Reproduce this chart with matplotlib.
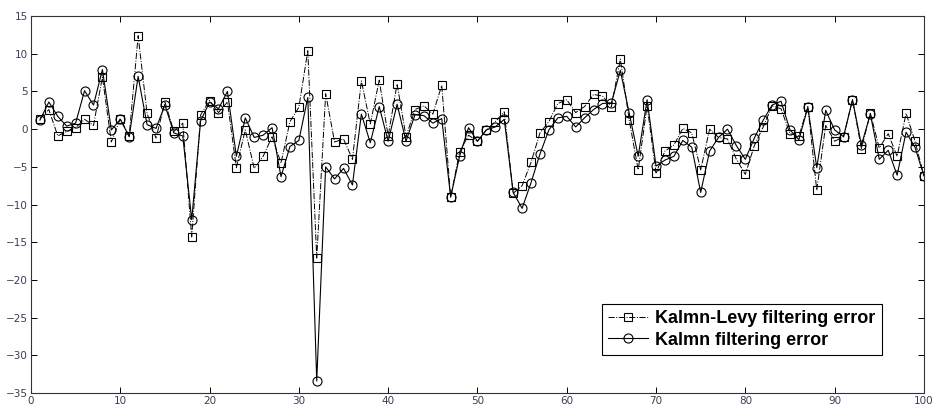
import numpy as np
import matplotlib
matplotlib.use("Agg")
import matplotlib.pyplot as plt

# sample index
steps = np.arange(1, 101)

# Kalmn-Levy filtering error (squares, dash-dot)
levy_err = [1.4, 2.6, -0.9, -0.3, 0.2, 1.3, 0.5, 6.9, -1.7, 1.4,
            -0.9, 12.4, 2.1, -1.2, 3.6, -0.3, 0.8, -14.3, 1.9, 3.8,
            2.2, 3.6, -5.1, -0.1, -5.2, -3.6, -1.0, -4.5, 1.0, 2.9,
            10.4, -17.1, 4.7, -1.7, -1.3, -4.0, 6.4, 0.7, 6.5, -0.9,
            6.0, -1.0, 2.6, 3.1, 2.0, 5.8, -9.0, -3.0, -0.8, -1.6,
            -0.1, 1.0, 2.3, -8.5, -7.5, -4.4, -0.5, 1.0, 3.4, 3.9,
            2.2, 3.0, 4.6, 4.4, 3.0, 9.3, 1.2, -5.4, 3.1, -5.8,
            -2.9, -2.1, 0.1, -0.5, -5.4, 0.0, -1.1, -1.3, -4.0, -6.0,
            -2.2, 0.3, 3.1, 2.7, -0.6, -0.9, 3.0, -8.1, 0.5, -1.6,
            -1.0, 3.9, -2.6, 2.1, -2.5, -0.6, -3.6, 2.1, -1.6, -6.2]

# Kalmn filtering error (circles, solid)
kalman_err = [1.2, 3.6, 1.7, 0.4, 0.8, 5.1, 3.2, 7.9, -0.1, 1.3,
              -1.0, 7.0, 0.6, 0.1, 3.2, -0.5, -0.9, -12.0, 1.1, 3.6,
              2.7, 5.0, -3.6, 1.5, -1.1, -0.8, 0.2, -6.3, -2.3, -1.5,
              4.2, -33.4, -5.0, -6.6, -5.2, -7.4, 2.0, -1.8, 3.0, -1.6,
              3.3, -1.6, 1.9, 1.8, 0.8, 1.4, -9.0, -3.6, 0.2, -1.6,
              -0.1, 0.3, 1.3, -8.4, -10.5, -7.1, -3.3, -0.1, 1.5, 1.7,
              0.3, 1.5, 2.6, 3.4, 3.5, 7.8, 2.1, -3.6, 3.9, -4.9,
              -4.1, -3.6, -1.5, -2.4, -8.4, -2.9, -1.1, 0.0, -2.2, -4.0,
              -1.2, 1.2, 3.2, 3.7, -0.1, -1.4, 2.9, -5.1, 2.5, -0.1,
              -1.0, 3.9, -2.1, 2.0, -4.0, -2.8, -6.1, -0.4, -2.4, -6.2]

fig = plt.figure(figsize=(9.36, 4.12), dpi=100)
ax = fig.add_axes([0.0331, 0.046, 0.954, 0.915])

ax.plot(steps, levy_err, linestyle='-.', color='black', lw=0.7,
        marker='s', markersize=5.5, markerfacecolor='none',
        markeredgecolor='black', markeredgewidth=0.8,
        label='Kalmn-Levy filtering error')
ax.plot(steps, kalman_err, linestyle='-', color='black', lw=0.8,
        marker='o', markersize=6.5, markerfacecolor='none',
        markeredgecolor='black', markeredgewidth=0.8,
        label='Kalmn filtering error')

ax.set_xlim(0, 100)
ax.set_ylim(-35, 15)
ax.set_xticks(np.arange(0, 101, 10))
ax.set_yticks(np.arange(-35, 16, 5))
ax.tick_params(direction='in', top=True, right=True, labelsize=7.5,
               labelcolor='#3c3c58', length=4, width=0.7, pad=2)
for sp in ax.spines.values():
    sp.set_linewidth(0.8)
    sp.set_color('#333333')

leg = ax.legend(loc='lower right', bbox_to_anchor=(0.953, 0.101),
                borderaxespad=0, fancybox=False, framealpha=1,
                edgecolor='black', handlelength=2.2, handletextpad=0.4,
                borderpad=0.35, labelspacing=0.25,
                prop={'family': 'Liberation Sans', 'weight': 'bold', 'size': 13})
leg.get_frame().set_linewidth(0.8)

fig.savefig('out.png', dpi=100)
